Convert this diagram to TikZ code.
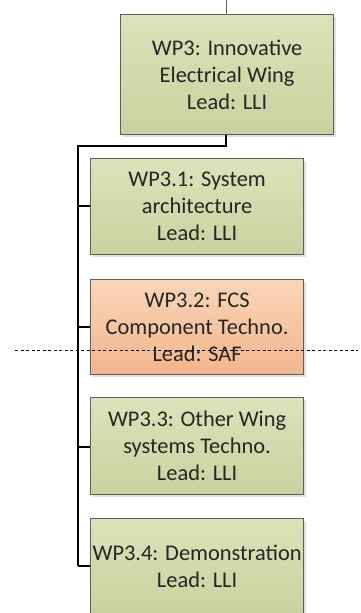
\documentclass[tikz,border=0pt]{standalone}
\usepackage{fontspec}
\setmainfont{Carlito}
\definecolor{gtop}{HTML}{DCE2BA}
\definecolor{gbot}{HTML}{C8D29E}
\definecolor{otop}{HTML}{F9D5B8}
\definecolor{obot}{HTML}{F2B58B}
\definecolor{bord}{HTML}{5E5E5E}
\definecolor{txt}{HTML}{262626}
\begin{document}
\begin{tikzpicture}[x=1pt,y=-1pt,
  wpbox/.style={draw=bord, line width=1.2pt, top color=gtop, bottom color=gbot,
    text=txt, align=center, font=\fontsize{22.4}{27}\selectfont, inner sep=0pt,
    anchor=north west},
  orbox/.style={wpbox, top color=otop, bottom color=obot},
  conn/.style={black, line width=1.6pt},
  tick/.style={black, line width=1.2pt}]
\useasboundingbox (0,0) rectangle (361,613);
\begin{scope}
\clip (0,0) rectangle (361,613);
% shadows
\foreach \x/\y/\w/\h in {120/14/213/120, 90/158/213/96, 90/279/213/95, 90/397/213/97, 90/518/213/96}
  \fill[black,opacity=0.12] (\x+2.5,\y+2.5) rectangle ++(\w,\h);
\node[wpbox, minimum width=213pt, minimum height=120pt] (wp3) at (120,14)
  {WP3: Innovative\\Electrical Wing\\Lead: LLI};
\node[wpbox, minimum width=213pt, minimum height=96pt] (wp31) at (90,158)
  {WP3.1: System\\architecture\\Lead: LLI};
\node[orbox, minimum width=213pt, minimum height=95pt] (wp32) at (90,279)
  {WP3.2: FCS\\Component Techno.\\Lead: SAF};
\node[wpbox, minimum width=213pt, minimum height=97pt] (wp33) at (90,397)
  {WP3.3: Other Wing\\systems Techno.\\Lead: LLI};
\node[wpbox, minimum width=213pt, minimum height=96pt] (wp34) at (90,518)
  {WP3.4: Demonstration\\Lead: LLI};
\coordinate (top) at (226,0);
\coordinate (bend) at (226,146);
\coordinate (spine) at (78,146);
\coordinate (send) at (78,566);
\draw[bord, line width=1pt] (top) -- (wp3.north -| top);
\draw[conn] (wp3.south -| bend) -- (bend) -- (spine) -- (send);
\draw[tick] (78,206) -- (wp31.west |- 0,206);
\draw[tick] (78,327) -- (wp32.west |- 0,327);
\draw[tick] (78,447) -- (wp33.west |- 0,447);
\draw[tick] (send) -- (wp34.west |- send);
\coordinate (dl) at (15,350);
\coordinate (dr) at (358,350);
\draw[black, line width=0.9pt, dash pattern=on 3pt off 2.5pt] (dl) -- (dr);
\end{scope}
\end{tikzpicture}
\end{document}
